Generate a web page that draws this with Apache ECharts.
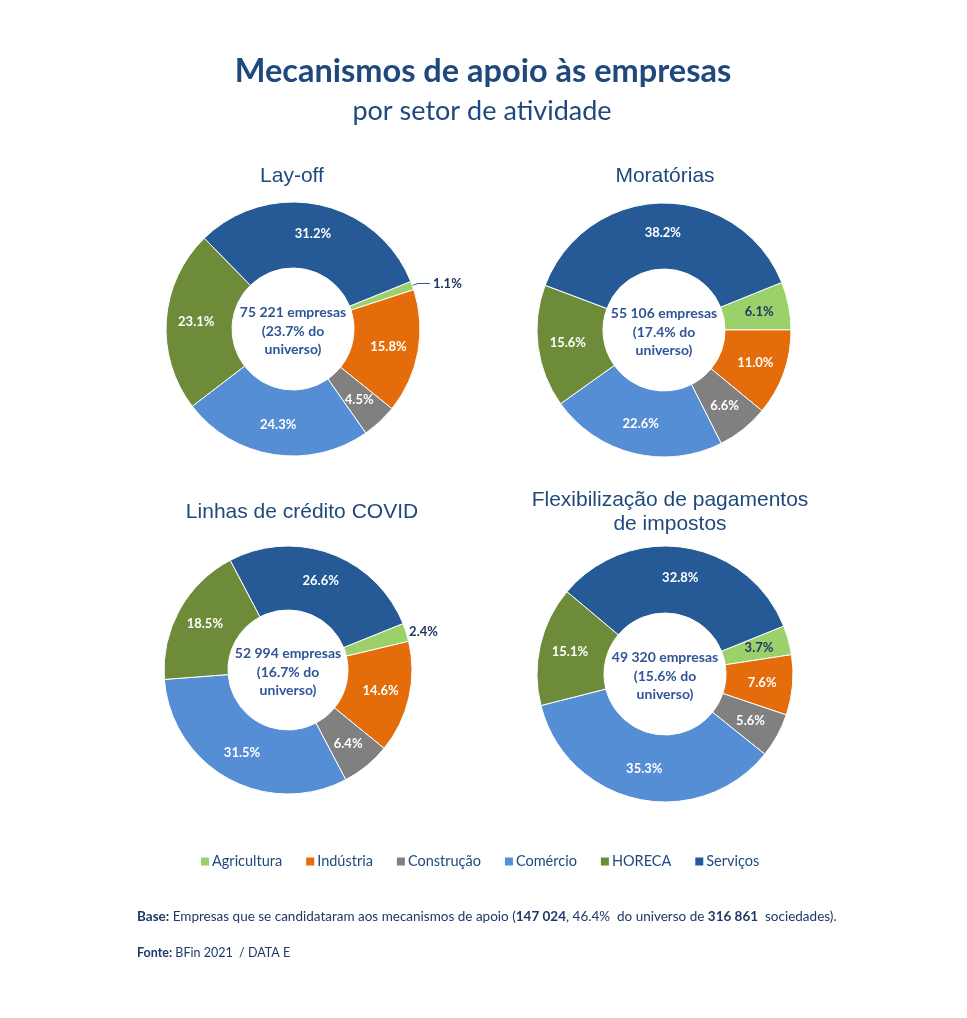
<!DOCTYPE html>
<html>
<head>
<meta charset="utf-8">
<script src="https://cdn.jsdelivr.net/npm/echarts@6/dist/echarts.min.js"></script>
<style>
html,body{margin:0;padding:0;background:#fff;}
#chart{width:967px;height:1018px;}
</style>
</head>
<body>
<div id="chart"></div>
<script>
// ---- data ----
const sectors = ['Agricultura', 'Indústria', 'Construção', 'Comércio', 'HORECA', 'Serviços'];
const chartTitles = ['Lay-off', 'Moratórias', 'Linhas de crédito COVID', 'Flexibilização de pagamentos\nde impostos'];
const layoffValues = [1.1, 15.8, 4.5, 24.3, 23.1, 31.2];
const moratoriasValues = [6.1, 11.0, 6.6, 22.6, 15.6, 38.2];
const linhasValues = [2.4, 14.6, 6.4, 31.5, 18.5, 26.6];
const flexValues = [3.7, 7.6, 5.6, 35.3, 15.1, 32.8];
const companyCounts = ['75 221', '55 106', '52 994', '49 320'];
const universeShares = ['23.7%', '17.4%', '16.7%', '15.6%'];
const mainTitle = 'Mecanismos de apoio às empresas';
const subTitle = 'por setor de atividade';
const baseNote = '{b|Base:} Empresas que se candidataram aos mecanismos de apoio ({b|147 024}, 46.4%  do universo de {b|316 861}  sociedades).';
const sourceNote = '{b|Fonte:} BFin 2021  / DATA E';

// ---- style / layout ----
const sectorColors = ['#9BD16A', '#E46C0A', '#808080', '#558ED5', '#6E8B3A', '#265A96'];
const navy = '#1F497D';
const darkNavy = '#1F3864';
const centerBlue = '#2F5597';
const allValues = [layoffValues, moratoriasValues, linhasValues, flexValues];
const centers = [[293, 329], [664, 330], [288, 670], [665, 674]];
const outerR = [127, 127, 124, 128];
const innerR = [61, 61, 60, 61];
const titlePos = [[292, 176], [665, 176], [302, 512], [670, 512]];
// label tweaks for small slices (index 0 = Agricultura)
const agriLabelMode = ['outside-line', 'inside-dark', 'outside', 'inside-dark'];

function fmt(v) { return v.toFixed(1) + '%'; }

const series = allValues.map((vals, k) => ({
  type: 'pie',
  center: centers[k],
  radius: [innerR[k], outerR[k]],
  startAngle: 22,
  clockwise: true,
  avoidLabelOverlap: false,
  animation: false,
  silent: true,
  itemStyle: { borderColor: '#ffffff', borderWidth: 1 },
  label: {
    show: true,
    position: 'inside',
    formatter: p => fmt(p.value),
    color: '#ffffff',
    fontFamily: 'Lato',
    fontWeight: 'bold',
    fontSize: 13
  },
  labelLine: { show: false },
  emphasis: { disabled: true },
  data: vals.map((v, i) => {
    const d = { name: sectors[i], value: v, itemStyle: { color: sectorColors[i] } };
    if (i === 0) {
      const mode = agriLabelMode[k];
      if (mode === 'inside-dark') {
        d.label = { color: darkNavy };
      } else if (mode === 'outside-line') {
        d.label = { position: 'outside', color: darkNavy, distanceToLabelLine: 3 };
        d.labelLine = { show: true, length: 6, length2: 12, lineStyle: { color: centerBlue, width: 1 } };
      } else if (mode === 'outside') {
        d.label = { position: 'outside', color: darkNavy, distanceToLabelLine: 0 };
        d.labelLine = { show: false, length: 1, length2: 2 };
      }
    }
    return d;
  })
}));

const graphics = [];
graphics.push({
  type: 'text', x: 483, y: 72,
  style: { text: mainTitle, align: 'center', verticalAlign: 'middle', fill: navy,
           font: 'bold 32.5px Lato' }
});
graphics.push({
  type: 'text', x: 482, y: 111,
  style: { text: subTitle, align: 'center', verticalAlign: 'middle', fill: navy,
           font: '27px Lato' }
});
chartTitles.forEach((t, k) => {
  graphics.push({
    type: 'text', x: titlePos[k][0], y: titlePos[k][1],
    style: { text: t, align: 'center', verticalAlign: 'middle', fill: navy,
             fontFamily: 'Liberation Sans', fontSize: 21, lineHeight: 24 }
  });
});
companyCounts.forEach((c, k) => {
  graphics.push({
    type: 'text', x: centers[k][0], y: centers[k][1] + 2,
    style: { text: c + ' empresas\n(' + universeShares[k] + ' do\nuniverso)',
             align: 'center', verticalAlign: 'middle', fill: centerBlue,
             fontFamily: 'Lato', fontWeight: 'bold', fontSize: 14, lineHeight: 18.5 }
  });
});
graphics.push({
  type: 'text', x: 137, y: 917,
  style: { text: baseNote, align: 'left', verticalAlign: 'middle', fill: darkNavy,
           fontFamily: 'Lato', fontSize: 13.5, rich: { b: { fontFamily: 'Lato', fontWeight: 'bold', fontSize: 13.5, fill: darkNavy } } }
});
graphics.push({
  type: 'text', x: 137, y: 953,
  style: { text: sourceNote, align: 'left', verticalAlign: 'middle', fill: darkNavy,
           fontFamily: 'Lato', fontSize: 12.5, rich: { b: { fontFamily: 'Lato', fontWeight: 'bold', fontSize: 12.5, fill: darkNavy } } }
});

const chart = echarts.init(document.getElementById('chart'), null, { renderer: 'canvas' });
chart.setOption({
  backgroundColor: '#ffffff',
  animation: false,
  color: sectorColors,
  legend: {
    data: sectors,
    left: 194,
    top: 849,
    icon: 'rect',
    itemWidth: 10,
    itemHeight: 10,
    itemGap: 22,
    selectedMode: false,
    textStyle: { color: navy, fontFamily: 'Lato', fontSize: 14.5, padding: [0, 0, 0, -3] }
  },
  series: series,
  graphic: graphics
});
</script>
</body>
</html>
